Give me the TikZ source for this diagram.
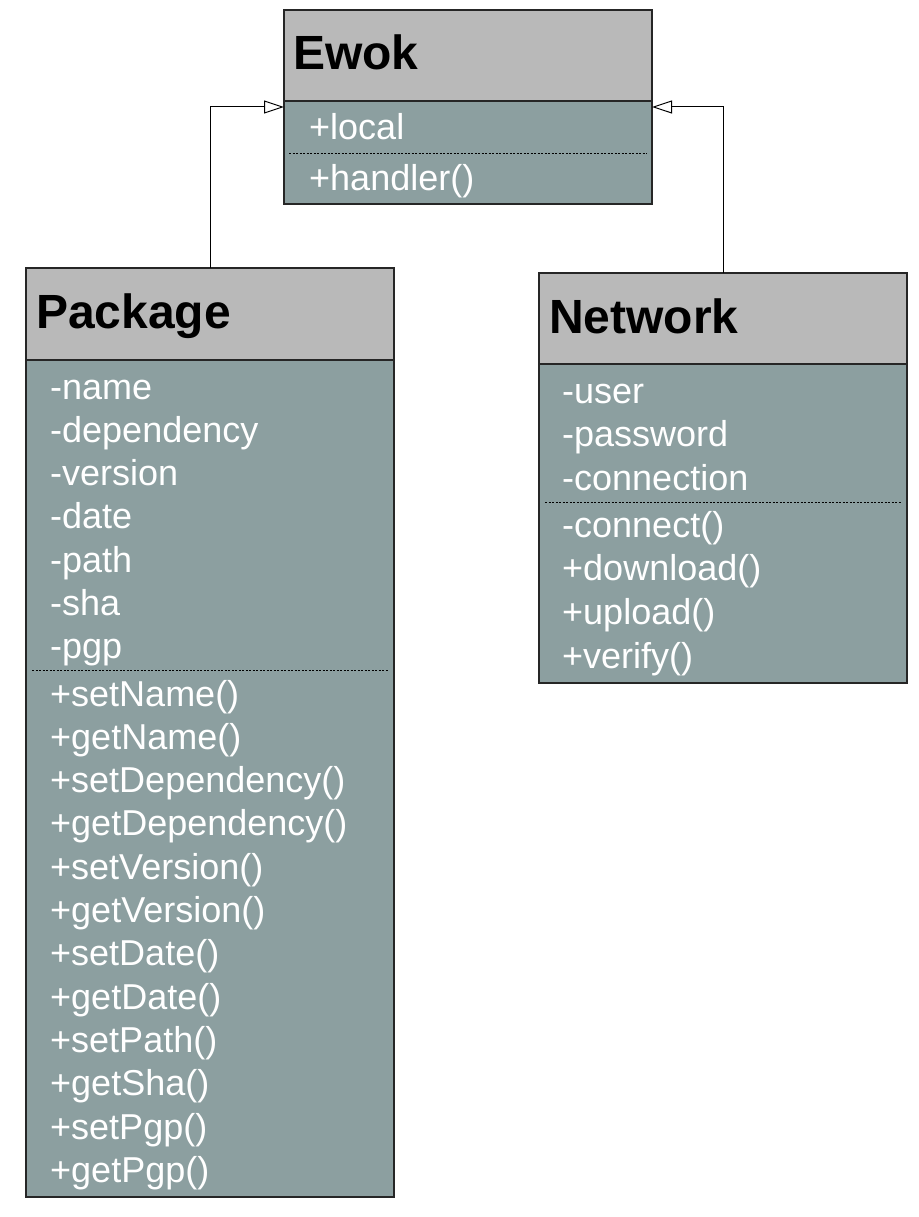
\documentclass[tikz,border=0pt]{standalone}
\usepackage{fontspec}
\setmainfont{Liberation Sans}
\usetikzlibrary{arrows.meta}
\definecolor{headgray}{RGB}{185,185,185}
\definecolor{bodygray}{RGB}{140,159,160}
\tikzset{
  classhead/.style={draw=black!85, line width=1.2pt, fill=headgray, anchor=north west,
    minimum width=368pt, inner sep=0pt, outer sep=0pt},
  classbody/.style={classhead, fill=bodygray},
  classname/.style={anchor=base west, inner sep=0pt, font=\fontsize{48}{58}\selectfont\bfseries},
  member/.style={anchor=base west, inner sep=0pt, text=white, font=\fontsize{36}{43}\selectfont},
  divider/.style={line width=0.8pt, dash pattern=on 2pt off 1.5pt},
  inherit/.style={line width=1pt, -{Triangle[open, length=20pt, width=13pt]}}
}
\begin{document}
\begin{tikzpicture}[x=1pt, y=-1pt]
  \useasboundingbox (0,0) rectangle (918,1217);
  % Ewok
  \node[classhead, minimum height=91pt] (ewokhead) at (284,10) {};
  \node[classbody, minimum height=103pt] (ewokbody) at (284,101) {};
  \node[classname] (ewokname) at (293,70) {Ewok};
  \node[member] (ewoklocal) at (309,140) {+local};
  \draw[divider] (289,153) -- (647,153);
  \node[member] (ewokhandler) at (309,190) {+handler()};
  % Package
  \node[classhead, minimum height=92pt] (pkghead) at (26,268) {};
  \node[classbody, minimum height=837pt] (pkgbody) at (26,360) {};
  \node[classname] (pkgname) at (36,328) {Package};
  \foreach \t [count=\i] in {-name,-dependency,-version,-date,-path,-sha,-pgp}
    \node[member] (pkgattr\i) at (50,{399+43.3*(\i-1)}) {\t};
  \draw[divider] (32,670) -- (389,670);
  \foreach \t [count=\i] in {+setName(),+getName(),+setDependency(),+getDependency(),
      +setVersion(),+getVersion(),+setDate(),+getDate(),+setPath(),+getSha(),
      +setPgp(),+getPgp()}
    \node[member] (pkgop\i) at (50,{706+43.3*(\i-1)}) {\t};
  % Network
  \node[classhead, minimum height=91pt] (nethead) at (539,273) {};
  \node[classbody, minimum height=319pt] (netbody) at (539,364) {};
  \node[classname] (netname) at (549,333) {Network};
  \foreach \t [count=\i] in {-user,-password,-connection}
    \node[member] (netattr\i) at (562,{403+43.5*(\i-1)}) {\t};
  \draw[divider] (545,502) -- (902,502);
  \foreach \t [count=\i] in {-connect(),+download(),+upload(),+verify()}
    \node[member] (netop\i) at (562,{537+43.7*(\i-1)}) {\t};
  % generalisation
  \draw[inherit] (pkghead.north) |- ([yshift=-6pt]ewokhead.south west);
  \draw[inherit] (nethead.north) |- ([yshift=-6pt]ewokhead.south east);
\end{tikzpicture}
\end{document}
